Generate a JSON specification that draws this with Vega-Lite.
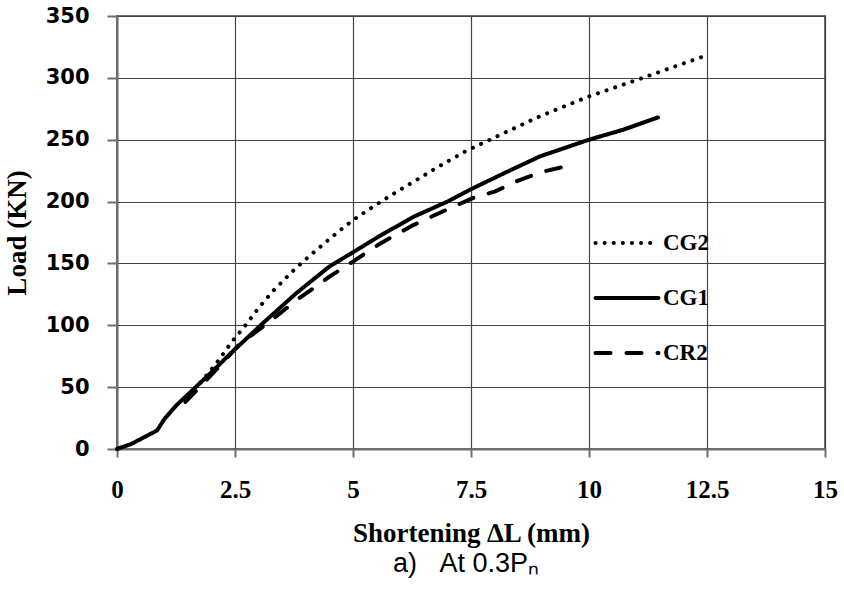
{
  "$schema": "https://vega.github.io/schema/vega-lite/v6.json",
  "width": 708,
  "height": 433,
  "autosize": {"type": "none"},
  "padding": {"left": 117, "top": 16, "right": 19, "bottom": 150},
  "background": "white",
  "title": {"text": "a)\u00a0\u00a0\u00a0At 0.3Pₙ", "orient": "bottom", "font": "Liberation Sans", "fontSize": 27, "fontWeight": "normal", "color": "black", "offset": 5, "anchor": "middle", "dx": -5},
  "data": {"values": [
    {"s": "CG1", "x": 0, "y": 0},
    {"s": "CG1", "x": 0.3, "y": 4},
    {"s": "CG1", "x": 0.6, "y": 10},
    {"s": "CG1", "x": 0.85, "y": 15},
    {"s": "CG1", "x": 1.0, "y": 24},
    {"s": "CG1", "x": 1.25, "y": 35},
    {"s": "CG1", "x": 1.5, "y": 44},
    {"s": "CG1", "x": 1.75, "y": 53},
    {"s": "CG1", "x": 2.0, "y": 62},
    {"s": "CG1", "x": 2.4, "y": 77},
    {"s": "CG1", "x": 3.1, "y": 102},
    {"s": "CG1", "x": 3.8, "y": 126},
    {"s": "CG1", "x": 4.5, "y": 147.5},
    {"s": "CG1", "x": 5.0, "y": 159},
    {"s": "CG1", "x": 5.6, "y": 173},
    {"s": "CG1", "x": 6.3, "y": 188},
    {"s": "CG1", "x": 7.0, "y": 200},
    {"s": "CG1", "x": 7.5, "y": 210},
    {"s": "CG1", "x": 8.26, "y": 224},
    {"s": "CG1", "x": 8.96, "y": 236.5},
    {"s": "CG1", "x": 10.0, "y": 250},
    {"s": "CG1", "x": 10.72, "y": 258},
    {"s": "CG1", "x": 11.46, "y": 268},
    {"s": "CG2", "x": 1.5, "y": 43},
    {"s": "CG2", "x": 1.8, "y": 55},
    {"s": "CG2", "x": 2.1, "y": 69},
    {"s": "CG2", "x": 2.46, "y": 88},
    {"s": "CG2", "x": 2.64, "y": 96},
    {"s": "CG2", "x": 3.0, "y": 114},
    {"s": "CG2", "x": 3.31, "y": 128},
    {"s": "CG2", "x": 3.81, "y": 147},
    {"s": "CG2", "x": 4.23, "y": 161},
    {"s": "CG2", "x": 4.65, "y": 174.5},
    {"s": "CG2", "x": 5.0, "y": 185},
    {"s": "CG2", "x": 5.43, "y": 196},
    {"s": "CG2", "x": 5.93, "y": 208},
    {"s": "CG2", "x": 6.35, "y": 217.5},
    {"s": "CG2", "x": 6.8, "y": 228},
    {"s": "CG2", "x": 7.4, "y": 241},
    {"s": "CG2", "x": 7.9, "y": 250},
    {"s": "CG2", "x": 8.26, "y": 256.5},
    {"s": "CG2", "x": 8.96, "y": 269},
    {"s": "CG2", "x": 10.0, "y": 285},
    {"s": "CG2", "x": 11.14, "y": 300},
    {"s": "CG2", "x": 12.4, "y": 317},
    {"s": "CR2", "x": 1.45, "y": 38},
    {"s": "CR2", "x": 1.8, "y": 52},
    {"s": "CR2", "x": 2.2, "y": 68},
    {"s": "CR2", "x": 2.6, "y": 85},
    {"s": "CR2", "x": 3.1, "y": 99},
    {"s": "CR2", "x": 3.81, "y": 120.5},
    {"s": "CR2", "x": 4.51, "y": 139.5},
    {"s": "CR2", "x": 5.0, "y": 151.5},
    {"s": "CR2", "x": 5.57, "y": 166},
    {"s": "CR2", "x": 6.28, "y": 181},
    {"s": "CR2", "x": 6.9, "y": 192},
    {"s": "CR2", "x": 7.55, "y": 203},
    {"s": "CR2", "x": 8.0, "y": 208},
    {"s": "CR2", "x": 8.5, "y": 217},
    {"s": "CR2", "x": 9.0, "y": 224},
    {"s": "CR2", "x": 9.4, "y": 227.5},
    {"s": "CR2", "x": 9.7, "y": 228}
  ]},
  "mark": {"type": "line", "strokeWidth": 4, "strokeCap": "round", "strokeJoin": "round", "color": "black"},
  "encoding": {
    "x": {
      "field": "x", "type": "quantitative",
      "scale": {"domain": [0, 15], "nice": false},
      "axis": {
        "values": [0, 2.5, 5, 7.5, 10, 12.5, 15],
        "labelExpr": "'' + datum.value",
        "title": "Shortening ∆L (mm)",
        "titleFont": "Liberation Serif", "titleFontSize": 27, "titleFontWeight": "bold", "titleColor": "black", "titlePadding": 18,
        "labelFont": "Liberation Serif", "labelFontSize": 25, "labelFontWeight": "bold", "labelColor": "black", "labelPadding": 20,
        "labelFlush": false, "labelOverlap": false,
        "domainColor": "#6e6e6e", "domainWidth": 2,
        "tickColor": "#6e6e6e", "tickWidth": 2, "tickSize": 8,
        "gridColor": "#444444", "gridWidth": 1.2, "gridOpacity": 1
      }
    },
    "y": {
      "field": "y", "type": "quantitative",
      "scale": {"domain": [0, 350], "nice": false},
      "axis": {
        "values": [0, 50, 100, 150, 200, 250, 300, 350],
        "title": "Load (KN)",
        "titleFont": "Liberation Serif", "titleFontSize": 27, "titleFontWeight": "bold", "titleColor": "black", "titlePadding": 14,
        "labelFont": "DejaVu Sans", "labelFontSize": 21, "labelFontWeight": "bold", "labelColor": "black", "labelPadding": 18,
        "labelOverlap": false,
        "domainColor": "#6e6e6e", "domainWidth": 2,
        "tickColor": "#6e6e6e", "tickWidth": 2, "tickSize": 10,
        "gridColor": "#444444", "gridWidth": 1.2, "gridOpacity": 1
      }
    },
    "strokeDash": {
      "field": "s", "type": "nominal",
      "scale": {"domain": ["CG2", "CG1", "CR2"], "range": [[0.1, 9], [1, 0], [15, 16]]},
      "legend": {
        "orient": "none", "legendX": 492, "legendY": 209, "title": null, "padding": 0,
        "symbolType": "M-2,0H2", "symbolSize": 992, "symbolStrokeWidth": 4, "symbolStrokeColor": "black", "symbolFillColor": "transparent",
        "labelFont": "Liberation Serif", "labelFontSize": 23, "labelFontWeight": "bold", "labelColor": "black", "labelOffset": 18,
        "rowPadding": 25,
        "encode": {"symbols": {"update": {"strokeCap": {"value": "round"}}}}
      }
    }
  },
  "config": {"view": {"stroke": "#6e6e6e", "strokeWidth": 2}}
}
